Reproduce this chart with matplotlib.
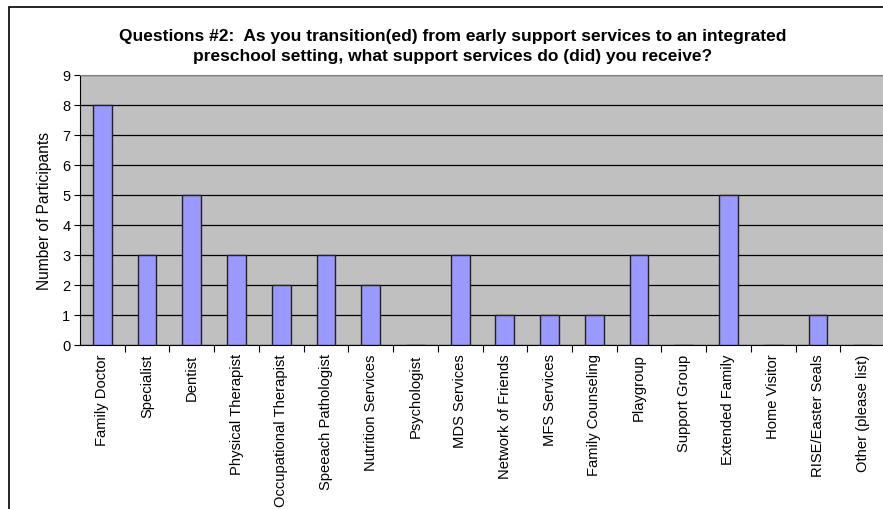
import matplotlib.pyplot as plt
from matplotlib.patches import Rectangle

categories = ["Family Doctor", "Specialist", "Dentist", "Physical Therapist",
              "Occupational Therapist", "Speeach Pathologist", "Nutrition Services",
              "Psychologist", "MDS Services", "Network of Friends", "MFS Services",
              "Family Counseling", "Playgroup", "Support Group", "Extended Family",
              "Home Visitor", "RISE/Easter Seals", "Other (please list)"]
counts = [8, 3, 5, 3, 2, 3, 2, 0, 3, 1, 1, 1, 3, 0, 5, 0, 1, 0]
yticks = list(range(0, 10))

plt.rcParams['font.family'] = ['Liberation Sans', 'DejaVu Sans']

W, H = 883, 510
fig = plt.figure(figsize=(W / 100, H / 100), dpi=100)

# outer chart border (right/bottom run off the picture)
fig.patches.append(Rectangle((9 / W, -0.1), 1.2, 1 - 8 / H + 0.1, transform=fig.transFigure,
                             fill=False, edgecolor='black', linewidth=1.2))

ax = fig.add_axes([80 / W, (H - 346) / H, 805 / W, 270 / H])
ax.set_facecolor('#C0C0C0')

x = list(range(len(categories)))
ax.bar(x, counts, width=0.42, color='#9999FF', edgecolor='#222222', linewidth=1.0, zorder=3)

ax.set_xlim(-0.5, len(categories) - 0.5)
ax.set_ylim(0, 9)
ax.set_yticks(yticks)
ax.tick_params(axis='y', direction='out', length=4, labelsize=10.5, pad=3)
ax.yaxis.grid(True, color='black', linewidth=0.9, zorder=1)
ax.set_axisbelow(True)

ax.set_xticks([i + 0.5 for i in range(len(categories) - 1)], minor=False)
ax.set_xticklabels([])
ax.set_xticks(x, minor=True)
ax.set_xticklabels(categories, minor=True, rotation=90, fontsize=10.6, va='top')
ax.tick_params(axis='x', which='major', direction='out', length=5)
ax.tick_params(axis='x', which='minor', length=0, pad=6)

for s in ['top', 'right']:
    ax.spines[s].set_color('#808080')
ax.spines['left'].set_color('black')
ax.spines['bottom'].set_color('black')

ax.set_ylabel("Number of Participants", fontsize=11.2, labelpad=7)

fig.text(453 / W, 1 - 46.5 / H,
         "Questions #2:  As you transition(ed) from early support services to an integrated\n"
         "preschool setting, what support services do (did) you receive?",
         ha='center', va='center', fontsize=12.5, fontweight='bold', linespacing=1.45)

fig.savefig("out.png", dpi=100)
